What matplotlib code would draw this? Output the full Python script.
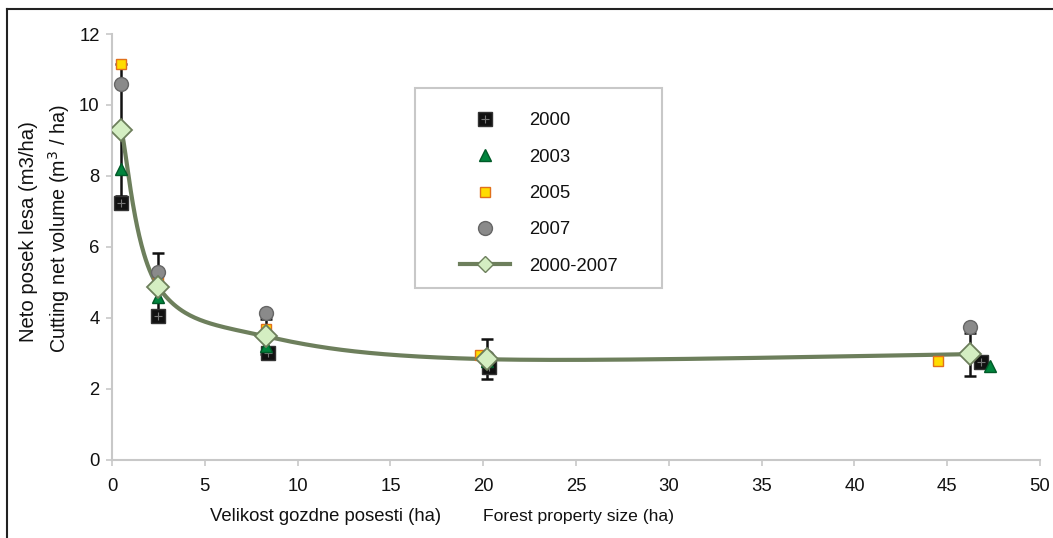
import matplotlib.pyplot as plt
import numpy as np
from matplotlib.lines import Line2D
from matplotlib.patches import Rectangle

plt.rcParams['font.family'] = ['Liberation Sans', 'DejaVu Sans']

# yearly values per property size class
x2000 = [0.5, 2.5, 8.4, 20.3, 46.8]
y2000 = [7.25, 4.05, 3.0, 2.62, 2.76]
x2003 = [0.5, 2.5, 8.3, 20.2, 47.3]
y2003 = [8.2, 4.6, 3.2, 2.8, 2.65]
x2005 = [0.5, 2.5, 8.3, 19.8, 44.5]
y2005 = [11.15, 5.1, 3.68, 2.95, 2.79]
x2007 = [0.5, 2.5, 8.3, 20.2, 46.2]
y2007 = [10.6, 5.3, 4.13, 2.9, 3.75]

# mean 2000-2007 with error
xmean = [0.5, 2.5, 8.3, 20.2, 46.2]
ymean = [9.3, 4.87, 3.48, 2.84, 2.98]
yerr = [1.85, 0.95, 0.5, 0.56, 0.6]

line_col = '#6d7f5c'
txt_col = '#111111'
fs = 13.3


def smooth(xs, ys, n=60):
    # Bezier smoothing like a spreadsheet "smoothed line"
    p = np.column_stack([xs, ys])
    pts = []
    for i in range(len(p) - 1):
        p0 = p[i - 1] if i > 0 else p[i]
        p1, p2 = p[i], p[i + 1]
        p3 = p[i + 2] if i + 2 < len(p) else p[i + 1]
        c1 = p1 + (p2 - p0) / 6
        c2 = p2 - (p3 - p1) / 6
        t = np.linspace(0, 1, n)[:, None]
        seg = ((1 - t) ** 3) * p1 + 3 * ((1 - t) ** 2) * t * c1 + 3 * (1 - t) * t ** 2 * c2 + t ** 3 * p2
        pts.append(seg)
    pts = np.vstack(pts)
    return pts[:, 0], pts[:, 1]


fig = plt.figure(figsize=(10.53, 5.38), dpi=100)
ax = fig.add_axes([0.1064, 0.145, 0.8813, 0.7918])

ax.errorbar(xmean, ymean, yerr=yerr, fmt='none', ecolor='#111111', elinewidth=1.8,
            capsize=4, capthick=1.8, zorder=2)

sx, sy = smooth(xmean, ymean)
ax.plot(sx, sy, color=line_col, lw=3, zorder=3, solid_capstyle='round')

ax.plot(x2000, y2000, 's', ms=10, mfc='#111111', mec='#333333', zorder=4)
ax.plot(x2000, y2000, '+', ms=6, mew=0.8, color='#777777', zorder=4)
ax.plot(x2003, y2003, '^', ms=9, mfc='#00843d', mec='#005a28', zorder=4)
ax.plot(x2005, y2005, 's', ms=7, mfc='#ffdc00', mec='#e0701c', mew=1, zorder=4)
ax.plot(x2007, y2007, 'o', ms=10, mfc='#8a8a8a', mec='#666666', zorder=4)
ax.plot(xmean, ymean, 'D', ms=11, mfc='#d4eec2', mec=line_col, mew=1.3, zorder=5)

ax.set_xlim(0, 50)
ax.set_ylim(0, 12)
ax.set_xticks(range(0, 51, 5))
ax.set_yticks(range(0, 13, 2))
for s in ['top', 'right']:
    ax.spines[s].set_visible(False)
for s in ['left', 'bottom']:
    ax.spines[s].set_color('#c8c8c8')
    ax.spines[s].set_linewidth(1.5)
ax.tick_params(axis='both', color='#c8c8c8', length=4, width=1.2, labelsize=fs,
               labelcolor=txt_col)
ax.tick_params(axis='x', pad=9)
ax.tick_params(axis='y', pad=5)
ax.patch.set_alpha(0)

# axis labels (two languages)
fig.text(0.027, 0.569, 'Neto posek lesa (m3/ha)', rotation=90, ha='center', va='center',
         fontsize=14.6, color=txt_col)
fig.text(0.056, 0.574, 'Cutting net volume (m$^3$ / ha)', rotation=90, ha='center', va='center',
         fontsize=14.2, color=txt_col)
fig.text(0.199, 0.04, 'Velikost gozdne posesti (ha)', ha='left', va='center',
         fontsize=fs, color=txt_col)
fig.text(0.459, 0.04, 'Forest property size (ha)', ha='left', va='center',
         fontsize=12.6, color=txt_col)

# legend
handles = [
    (Line2D([], [], ls='none', marker='s', ms=10, mfc='#111111', mec='#333333'),
     Line2D([], [], ls='none', marker='+', ms=6, mew=0.8, color='#777777')),
    Line2D([], [], ls='none', marker='^', ms=9, mfc='#00843d', mec='#005a28'),
    Line2D([], [], ls='none', marker='s', ms=7, mfc='#ffdc00', mec='#e0701c'),
    Line2D([], [], ls='none', marker='o', ms=10, mfc='#8a8a8a', mec='#666666'),
    Line2D([], [], color=line_col, lw=3, marker='D', ms=8, mfc='#d4eec2', mec=line_col),
]
labels = ['2000', '2003', '2005', '2007', '2000-2007']
leg = fig.legend(handles, labels, loc='upper left', bbox_to_anchor=(0.430, 0.805),
                 frameon=False, fontsize=fs, labelspacing=1.05, handlelength=2.7,
                 handletextpad=1.05, borderaxespad=0)
for t in leg.get_texts():
    t.set_color(txt_col)
fig.patches.append(Rectangle((0.394, 0.465), 0.235, 0.371, transform=fig.transFigure,
                             fill=False, ec='#c8c8c8', lw=1.5))

# outer border (top and left only)
fig.add_artist(Line2D([0.0066, 1.0], [0.983, 0.983], transform=fig.transFigure,
                      color='#222222', lw=1.5))
fig.add_artist(Line2D([0.0066, 0.0066], [0.0, 0.983], transform=fig.transFigure,
                      color='#222222', lw=1.5))

fig.savefig('out.png', dpi=100)
